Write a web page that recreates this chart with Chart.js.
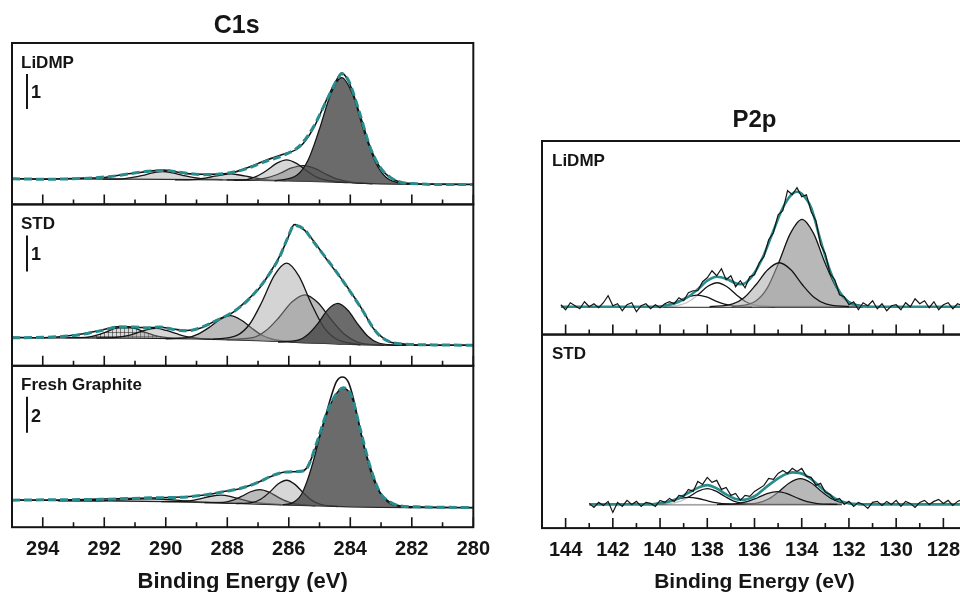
<!DOCTYPE html>
<html>
<head>
<meta charset="utf-8">
<title>C1s / P2p</title>
<script src="https://cdn.jsdelivr.net/npm/chart.js@4.4.1/dist/chart.umd.min.js"></script>
<style>
  html, body { margin: 0; padding: 0; background: #fff; width: 960px; height: 592px; overflow: hidden; }
  canvas { position: absolute; top: 0; }
  #c1s { left: 0; }
  #p2p { left: 530px; }
</style>
</head>
<body>
<canvas id="c1s" width="500" height="592"></canvas>
<canvas id="p2p" width="450" height="592"></canvas>
<script>
// ---------- C1s : ticks do eixo x (eV) ----------
const c1sMajorTicks = [294, 292, 290, 288, 286, 284, 282, 280];
const c1sMinorTicks = [293, 291, 289, 287, 285, 283, 281];

// ---------- C1s LiDMP ----------
const c1sLiBg = [[295,0.16],[291,0.15],[288,0.13],[286,0.1],[284.5,0.07],[283.5,0.03],[282.5,0.01],[280,0]];
const c1sLiPeak1 = [[292.05,0.15],[291.4,0.16],[291.08,0.2],[290.75,0.26],[290.43,0.33],[290.1,0.37],[289.78,0.33],[289.45,0.26],[289.13,0.2],[288.8,0.16],[288.15,0.14]];
const c1sLiPeak2 = [[289.7,0.13],[289.1,0.14],[288.8,0.17],[288.5,0.22],[288.2,0.27],[287.9,0.3],[287.6,0.27],[287.3,0.22],[287.0,0.17],[286.7,0.13],[286.1,0.11]];
const c1sLiPeak3 = [[288.02,0.13],[287.37,0.14],[287.05,0.23],[286.72,0.4],[286.4,0.6],[286.07,0.7],[285.75,0.6],[285.42,0.39],[285.1,0.21],[284.77,0.12],[284.12,0.06]];
const c1sLiPeak4 = [[287.78,0.12],[287.03,0.14],[286.66,0.2],[286.28,0.32],[285.91,0.47],[285.53,0.54],[285.16,0.46],[284.78,0.29],[284.41,0.15],[284.03,0.07],[283.28,0.02]];
const c1sLiPeak5 = [[286.46,0.1],[285.73,0.27],[285.37,0.7],[285.01,1.56],[284.64,2.57],[284.28,3.05],[283.92,2.56],[283.56,1.53],[283.19,0.65],[282.83,0.2],[282.1,0]];
const c1sLiFit = [[295,0.16],[294,0.15],[292.68,0.17],[292.0,0.21],[291.49,0.26],[290.84,0.35],[290.08,0.4],[289.32,0.32],[288.78,0.28],[287.99,0.32],[287.37,0.45],[286.72,0.67],[286.18,0.83],[285.64,1.11],[285.2,1.64],[284.77,2.4],[284.44,2.97],[284.28,3.16],[284.06,2.97],[283.69,2.02],[283.36,1.07],[283.04,0.5],[282.71,0.21],[282.39,0.07],[281.84,0.02],[281.3,0],[280,0]];
const c1sLiRaw = [[295,0.17],[294,0.15],[292.68,0.18],[292.0,0.2],[291.49,0.27],[290.84,0.34],[290.08,0.41],[289.32,0.31],[288.78,0.29],[287.99,0.31],[287.37,0.47],[286.72,0.7],[286.18,0.86],[285.64,1.07],[285.2,1.6],[284.77,2.42],[284.44,2.99],[284.28,3.18],[284.06,2.95],[283.69,2.0],[283.36,1.08],[283.04,0.49],[282.71,0.2],[282.39,0.07],[281.84,0.02],[281.3,0.01],[280,0]];

// ---------- C1s STD ----------
const c1sStdBg = [[295,0.21],[291,0.2],[289,0.18],[287,0.13],[285.5,0.07],[284.5,0.04],[283.5,0.01],[282.5,0],[280,0]];
const c1sStdPeak1 = [[293.27,0.21],[292.62,0.22],[292.3,0.27],[291.97,0.36],[291.65,0.47],[291.32,0.52],[291.0,0.47],[290.67,0.36],[290.35,0.27],[290.02,0.22],[289.37,0.19]];
const c1sStdPeak2 = [[292.25,0.2],[291.6,0.22],[291.28,0.26],[290.95,0.34],[290.63,0.43],[290.3,0.47],[289.98,0.41],[289.65,0.32],[289.33,0.24],[289.0,0.2],[288.35,0.17]];
const c1sStdPeak3 = [[290.0,0.18],[289.3,0.21],[288.95,0.31],[288.6,0.49],[288.25,0.71],[287.9,0.82],[287.55,0.7],[287.2,0.47],[286.85,0.27],[286.5,0.16],[285.8,0.09]];
const c1sStdPeak4 = [[288.47,0.16],[287.67,0.28],[287.27,0.59],[286.87,1.21],[286.47,1.94],[286.07,2.28],[285.67,1.92],[285.27,1.16],[284.87,0.51],[284.47,0.18],[283.67,0.01]];
const c1sStdPeak5 = [[288.02,0.16],[287.17,0.21],[286.75,0.4],[286.32,0.77],[285.9,1.2],[285.47,1.4],[285.05,1.18],[284.62,0.71],[284.2,0.31],[283.77,0.09],[282.92,0]];
const c1sStdPeak6 = [[286.35,0.09],[285.7,0.14],[285.38,0.3],[285.05,0.61],[284.73,0.99],[284.4,1.16],[284.08,0.97],[283.75,0.58],[283.43,0.25],[283.1,0.07],[282.45,0]];
const c1sStdFit = [[295,0.21],[294,0.22],[292.9,0.28],[292.14,0.4],[291.49,0.51],[291.05,0.51],[290.62,0.48],[290.19,0.51],[289.75,0.44],[289.32,0.4],[288.89,0.48],[288.34,0.69],[287.8,0.93],[287.37,1.22],[286.94,1.62],[286.5,2.15],[286.3,2.45],[286.05,2.95],[285.82,3.33],[285.5,3.22],[285.22,2.9],[284.68,2.3],[284.13,1.65],[283.59,0.95],[283.27,0.5],[283.05,0.27],[282.73,0.1],[282.19,0.03],[281.3,0.01],[280,0]];
const c1sStdRaw = [[295,0.22],[294,0.21],[292.9,0.29],[292.14,0.41],[291.49,0.52],[291.05,0.5],[290.62,0.49],[290.19,0.5],[289.75,0.45],[289.32,0.41],[288.89,0.47],[288.34,0.7],[287.8,0.92],[287.37,1.24],[286.94,1.6],[286.5,2.17],[286.3,2.47],[286.05,2.93],[285.82,3.35],[285.5,3.2],[285.22,2.92],[284.68,2.28],[284.13,1.66],[283.59,0.96],[283.27,0.49],[283.05,0.28],[282.73,0.1],[282.19,0.03],[281.3,0],[280,0]];

// ---------- C1s Fresh Graphite ----------
const c1sFgBg = [[295,0.41],[292,0.38],[290,0.33],[288,0.25],[286.5,0.17],[285,0.09],[284,0.04],[283,0.01],[282,0],[280,0]];
const c1sFgPeak1 = [[293.5,0.38],[292.5,0.38],[292.0,0.39],[291.5,0.43],[291.0,0.47],[290.5,0.48],[290.0,0.45],[289.5,0.39],[289.0,0.33],[288.5,0.29],[287.5,0.23]];
const c1sFgPeak2 = [[290.15,0.33],[289.5,0.34],[289.18,0.38],[288.85,0.5],[288.53,0.63],[288.2,0.69],[287.88,0.61],[287.55,0.46],[287.23,0.32],[286.9,0.24],[286.25,0.17]];
const c1sFgPeak3 = [[288.74,0.28],[288.14,0.29],[287.84,0.4],[287.54,0.62],[287.24,0.88],[286.94,1.0],[286.64,0.86],[286.34,0.57],[286.04,0.33],[285.74,0.19],[285.14,0.1]];
const c1sFgPeak4 = [[287.72,0.22],[287.17,0.29],[286.9,0.48],[286.62,0.86],[286.35,1.31],[286.07,1.52],[285.8,1.29],[285.52,0.81],[285.25,0.4],[284.97,0.18],[284.42,0.06]];
const c1sFgPeak5 = [[286.2,0.16],[285.9,0.25],[285.6,0.7],[285.4,1.5],[285.2,2.6],[285.0,3.9],[284.8,5.0],[284.6,5.9],[284.4,6.45],[284.23,6.62],[284.05,6.45],[283.9,5.9],[283.7,4.5],[283.5,3.0],[283.3,1.8],[283.1,1.0],[282.9,0.5],[282.7,0.22],[282.4,0.06],[282.0,0]];
const c1sFgFit = [[295,0.41],[294,0.43],[292.14,0.46],[290.51,0.54],[289.32,0.59],[288.67,0.72],[288.02,0.91],[287.59,1.06],[287.04,1.37],[286.5,1.8],[286.07,1.98],[285.64,2.02],[285.42,2.17],[285.09,3.6],[284.77,5.25],[284.44,6.35],[284.23,6.66],[283.96,6.2],[283.69,4.45],[283.36,2.3],[283.04,0.85],[282.71,0.31],[282.39,0.09],[281.84,0.04],[280,0]];
const c1sFgRaw = [[295,0.42],[294,0.42],[292.14,0.47],[290.51,0.53],[289.32,0.6],[288.67,0.71],[288.02,0.92],[287.59,1.05],[287.04,1.38],[286.5,1.78],[286.07,1.99],[285.64,2.0],[285.42,2.2],[285.09,3.5],[284.77,5.3],[284.6,6.3],[284.45,7.0],[284.26,7.26],[284.07,7.0],[283.92,6.2],[283.75,4.9],[283.55,3.4],[283.36,2.3],[283.04,0.86],[282.71,0.3],[282.39,0.1],[281.84,0.04],[280,0]];

// ---------- P2p : ticks e grade de energia do espectro medido ----------
const p2pMajorTicks = [144, 142, 140, 138, 136, 134, 132, 130, 128];
const p2pMinorTicks = [143, 141, 139, 137, 135, 133, 131, 129, 127];
const p2pEnergy = [144.2,144.0,143.8,143.6,143.4,143.2,143.0,142.8,142.6,142.4,142.2,142.0,141.8,141.6,141.4,141.2,141.0,140.8,140.6,140.4,140.2,140.0,139.8,139.6,139.4,139.2,139.0,138.8,138.6,138.4,138.2,138.0,137.8,137.6,137.4,137.2,137.0,136.8,136.6,136.4,136.2,136.0,135.8,135.6,135.4,135.2,135.0,134.8,134.6,134.4,134.2,134.0,133.8,133.6,133.4,133.2,133.0,132.8,132.6,132.4,132.2,132.0,131.8,131.6,131.4,131.2,131.0,130.8,130.6,130.4,130.2,130.0,129.8,129.6,129.4,129.2,129.0,128.8,128.6,128.4,128.2,128.0,127.8,127.6,127.4,127.2,127.0];

// ---------- P2p LiDMP ----------
const p2pLiRaw = [0.2,-0.3,0.4,0.1,-0.2,0.5,0.0,0.3,-0.1,0.4,1.1,0.1,0.3,-0.4,0.2,0.4,-0.5,0.1,0.3,-0.2,0.2,-0.1,0.3,
  0.5,0.3,0.9,0.6,1.4,1.6,1.6,2.5,2.9,3.6,3.1,3.8,2.7,3.1,2.0,2.6,1.9,3.0,3.2,4.4,5.0,6.7,7.4,9.2,9.6,11.6,11.2,11.9,11.0,11.2,9.5,8.6,6.2,5.3,3.3,2.7,1.2,1.0,0.2,0.5,
  -0.3,0.4,0.1,0.6,-0.2,0.3,-0.4,0.1,0.2,-0.3,0.4,0.0,0.8,0.3,0.6,-0.1,0.5,-0.3,0.2,0.4,-0.2,0.3,0.1,-0.1];
const p2pLiFit = [[144.2,0],[140.0,0],[139.6,0.2],[139.2,0.5],[138.8,1.0],[138.4,1.75],[138.0,2.6],[137.6,3.0],[137.2,2.8],[136.8,2.35],[136.6,2.25],[136.4,2.35],[136.0,3.4],[135.6,5.2],[135.2,7.6],[134.8,9.9],[134.4,11.3],[134.2,11.5],[134.0,11.3],[133.6,9.9],[133.2,6.6],[132.8,3.6],[132.4,1.5],[132.0,0.45],[131.6,0.1],[131.2,0],[127,0]];
const p2pLiBg = [[139.9,0],[131.4,0]];
const p2pLiPeakA = [[140.76,0],[139.98,0.07],[139.59,0.25],[139.2,0.59],[138.82,0.98],[138.43,1.17],[138.04,0.98],[137.66,0.59],[137.27,0.25],[136.88,0.07],[136.1,0]];
const p2pLiPeakB = [[140.01,0],[139.2,0.15],[138.8,0.5],[138.39,1.2],[137.99,2.02],[137.58,2.4],[137.18,2.02],[136.77,1.2],[136.37,0.5],[135.96,0.15],[135.15,0]];
const p2pLiPeakC = [[137.9,0],[136.92,0.28],[136.43,0.92],[135.94,2.2],[135.44,3.7],[134.95,4.4],[134.46,3.7],[133.97,2.2],[133.47,0.92],[132.98,0.28],[132.0,0]];
const p2pLiPeakD = [[136.94,0],[135.96,0.55],[135.47,1.83],[134.98,4.37],[134.48,7.33],[133.99,8.73],[133.5,7.33],[133.01,4.37],[132.51,1.83],[132.02,0.55],[131.04,0]];

// ---------- P2p STD ----------
const p2pStdRaw = [0.1,-0.3,0.2,-0.1,0.3,-0.8,0.2,-0.2,0.4,0.0,0.3,-0.2,0.2,0.1,-0.2,0.4,0.2,
  0.6,0.3,0.9,0.8,1.5,1.3,2.3,2.0,2.7,2.2,2.4,1.5,1.7,0.9,1.1,0.4,0.9,0.8,1.3,1.6,1.9,2.6,2.5,3.1,3.4,3.1,3.6,3.3,3.6,2.8,2.7,1.9,2.1,1.2,1.0,0.4,0.6,0.0,0.3,-0.2,
  0.2,0.0,-0.4,0.2,0.3,-0.1,0.3,0.0,0.4,-0.2,0.3,0.1,-0.3,0.2,0.4,0.0,0.3,0.5,0.1,0.4,-0.1,0.3,0.5,0.2];
const p2pStdFit = [[143.0,0],[140.6,0],[140.0,0.12],[139.6,0.3],[139.2,0.62],[138.8,1.15],[138.4,1.65],[138.0,1.93],[137.6,1.6],[137.2,1.0],[136.8,0.55],[136.5,0.45],[136.2,0.6],[135.9,0.95],[135.6,1.55],[135.3,2.1],[135.0,2.6],[134.7,3.0],[134.4,3.2],[134.1,3.15],[133.8,2.85],[133.5,2.35],[133.2,1.7],[132.9,1.1],[132.6,0.6],[132.3,0.3],[132.0,0.12],[131.6,0.03],[131.0,0],[127,0]];
const p2pStdBg = [[140.5,0],[132.3,0]];
const p2pStdPeakA = [[141.18,0],[140.38,0.04],[139.98,0.15],[139.58,0.35],[139.18,0.59],[138.78,0.7],[138.38,0.59],[137.98,0.35],[137.58,0.15],[137.18,0.04],[136.38,0]];
const p2pStdPeakB = [[140.25,0],[139.5,0.1],[139.13,0.33],[138.75,0.79],[138.38,1.32],[138.0,1.57],[137.63,1.32],[137.25,0.79],[136.88,0.33],[136.5,0.1],[135.75,0]];
const p2pStdPeakC = [[137.59,0],[136.74,0.08],[136.32,0.27],[135.89,0.64],[135.47,1.07],[135.04,1.27],[134.62,1.07],[134.19,0.64],[133.77,0.27],[133.34,0.08],[132.49,0]];
const p2pStdPeakD = [[136.76,0],[135.86,0.16],[135.41,0.54],[134.96,1.29],[134.51,2.16],[134.06,2.57],[133.61,2.16],[133.16,1.29],[132.71,0.54],[132.26,0.16],[131.36,0]];

// ---------- estilos ----------
const FONT = '"Liberation Sans", Arial, Helvetica, sans-serif';
const INK = '#151515';
const TEAL = '#288c8c';
const FILL_PALE = 'rgba(160,160,160,0.22)';
const FILL_LIGHT = 'rgba(150,150,150,0.38)';
const FILL_BIG = 'rgba(160,160,160,0.45)';
const FILL_MID = 'rgba(120,120,120,0.5)';
const FILL_DARK = 'rgba(70,70,70,0.8)';
const FILL_WHITE = 'rgba(255,255,255,0.75)';
const FILL_P_C = 'rgba(170,170,170,0.55)';
const FILL_P_D = 'rgba(160,160,160,0.75)';

Chart.defaults.font.family = FONT;
Chart.defaults.color = INK;

// padrão quadriculado para o pico hachurado
function hatchPattern() {
  const pc = document.createElement('canvas');
  pc.width = 4; pc.height = 4;
  const g = pc.getContext('2d');
  g.fillStyle = 'rgba(0,0,0,0.15)';
  g.fillRect(0, 0, 4, 4);
  g.strokeStyle = 'rgba(0,0,0,0.45)';
  g.lineWidth = 1;
  g.beginPath();
  g.moveTo(0, 0.5); g.lineTo(4, 0.5);
  g.moveTo(0.5, 0); g.lineTo(0.5, 4);
  g.stroke();
  return g.createPattern(pc, 'repeat');
}

function curve(data, axis, color, width, extra) {
  return Object.assign({
    data: data,
    yAxisID: axis,
    borderColor: color,
    borderWidth: width,
    pointRadius: 0,
    fill: false,
    cubicInterpolationMode: 'monotone'
  }, extra || {});
}

// o primeiro dataset fica por cima
function addC1sPanel(list, axis, fit, raw, peaks, bg) {
  list.push(curve(fit, axis, TEAL, 3, { borderDash: [8, 4] }));
  list.push(curve(raw, axis, INK, 1.6));
  const bgIndex = list.length + peaks.length;
  peaks.slice().reverse().forEach(p => {
    list.push(curve(p.data, axis, INK, 1.3, { fill: { target: bgIndex }, backgroundColor: p.fill }));
  });
  list.push(curve(bg, axis, INK, 1.3));
}

function addP2pPanel(list, axis, raw, fit, peaks, bg) {
  list.push(curve(raw, axis, INK, 1.2, { cubicInterpolationMode: 'default', tension: 0 }));
  list.push(curve(fit, axis, TEAL, 2.6));
  const bgIndex = list.length + peaks.length;
  peaks.slice().reverse().forEach(p => {
    list.push(curve(p.data, axis, INK, 1.3, { fill: { target: bgIndex }, backgroundColor: p.fill }));
  });
  list.push(curve(bg, axis, INK, 1.8));
}

// Chart.js conta o padding dos ticks duas vezes na altura do eixo
function xAxis(min, max, ticks, titleSize) {
  return {
    type: 'linear', position: 'bottom', min: min, max: max, reverse: true,
    afterBuildTicks: s => { s.ticks = ticks.map(v => ({ value: v })); },
    grid: { display: false, drawTicks: false },
    border: { display: false },
    ticks: { padding: 10, font: { size: 20, weight: 'bold' }, color: INK, maxRotation: 0, autoSkip: false },
    title: { display: true, text: 'Binding Energy (eV)', color: INK,
             font: { size: titleSize, weight: 'bold', lineHeight: 0.9 }, padding: { top: 1, bottom: 0 } }
  };
}

function yAxis(min, max, weight) {
  return { type: 'linear', position: 'left', stack: 'col', stackWeight: 1, weight: weight, min: min, max: max, display: false };
}

// moldura de cada painel, ticks internos, rótulos e barra de escala
function panelFrames(cfg) {
  return {
    id: 'panelFrames',
    afterDraw(chart) {
      const ctx = chart.ctx;
      const area = chart.chartArea;
      const xs = chart.scales.x;
      ctx.save();
      ctx.fillStyle = INK;
      ctx.strokeStyle = INK;
      ctx.textBaseline = 'middle';
      ctx.textAlign = 'center';
      ctx.font = 'bold ' + cfg.titleSize + 'px ' + FONT;
      ctx.fillText(cfg.title, (area.left + area.right) / 2 + cfg.titleShift, area.top - cfg.titleGap);
      cfg.panels.forEach(p => {
        const ys = chart.scales[p.axis];
        ctx.lineWidth = 2;
        ctx.strokeRect(area.left, ys.top, area.right - area.left, ys.bottom - ys.top);
        ctx.lineWidth = 1.6;
        ctx.beginPath();
        cfg.major.forEach(v => {
          const px = xs.getPixelForValue(v);
          ctx.moveTo(px, ys.bottom); ctx.lineTo(px, ys.bottom - 10);
        });
        cfg.minor.forEach(v => {
          const px = xs.getPixelForValue(v);
          ctx.moveTo(px, ys.bottom); ctx.lineTo(px, ys.bottom - 5);
        });
        ctx.stroke();
        ctx.textAlign = 'left';
        ctx.font = 'bold 17px ' + FONT;
        ctx.fillText(p.label, area.left + cfg.labelInset, ys.top + 20);
        if (p.bar) {
          const len = ys.getPixelForValue(0) - ys.getPixelForValue(p.bar);
          const bx = area.left + 15;
          const by = ys.top + 31;
          ctx.lineWidth = 2;
          ctx.beginPath();
          ctx.moveTo(bx, by); ctx.lineTo(bx, by + len);
          ctx.stroke();
          ctx.font = 'bold 18px ' + FONT;
          ctx.fillText(String(p.bar), bx + 4, by + len / 2 + 2);
        }
      });
      ctx.restore();
    }
  };
}

function buildChart(id, datasets, scales, padding, frameCfg) {
  return new Chart(document.getElementById(id), {
    type: 'line',
    data: { datasets: datasets },
    options: {
      responsive: false,
      animation: false,
      events: [],
      layout: { padding: padding },
      scales: scales,
      plugins: { legend: { display: false }, tooltip: { enabled: false } }
    },
    plugins: [panelFrames(frameCfg)]
  });
}

// ---------- C1s ----------
const hatch = hatchPattern();
const c1sSets = [];
addC1sPanel(c1sSets, 'yLi', c1sLiFit, c1sLiRaw, [
  { data: c1sLiPeak1, fill: FILL_LIGHT },
  { data: c1sLiPeak2, fill: FILL_LIGHT },
  { data: c1sLiPeak4, fill: FILL_MID },
  { data: c1sLiPeak3, fill: FILL_LIGHT },
  { data: c1sLiPeak5, fill: FILL_DARK }
], c1sLiBg);
addC1sPanel(c1sSets, 'yStd', c1sStdFit, c1sStdRaw, [
  { data: c1sStdPeak1, fill: hatch },
  { data: c1sStdPeak2, fill: FILL_LIGHT },
  { data: c1sStdPeak3, fill: FILL_MID },
  { data: c1sStdPeak5, fill: FILL_MID },
  { data: c1sStdPeak4, fill: FILL_BIG },
  { data: c1sStdPeak6, fill: FILL_DARK }
], c1sStdBg);
addC1sPanel(c1sSets, 'yFg', c1sFgFit, c1sFgRaw, [
  { data: c1sFgPeak1, fill: FILL_PALE },
  { data: c1sFgPeak2, fill: FILL_LIGHT },
  { data: c1sFgPeak3, fill: FILL_MID },
  { data: c1sFgPeak4, fill: FILL_LIGHT },
  { data: c1sFgPeak5, fill: FILL_DARK }
], c1sFgBg);

buildChart('c1s', c1sSets, {
  x: xAxis(280, 295, c1sMajorTicks, 22),
  yLi: yAxis(-0.57, 4.04, 3),
  yStd: yAxis(-0.57, 3.91, 2),
  yFg: yAxis(-1.09, 7.88, 1)
}, { left: 12, right: 26, top: 43, bottom: 0 }, {
  title: 'C1s', titleSize: 25, titleShift: -6, titleGap: 17, labelInset: 9,
  major: c1sMajorTicks, minor: c1sMinorTicks,
  panels: [
    { axis: 'yLi', label: 'LiDMP', bar: 1 },
    { axis: 'yStd', label: 'STD', bar: 1 },
    { axis: 'yFg', label: 'Fresh Graphite', bar: 2 }
  ]
});

// ---------- P2p ----------
const p2pSets = [];
addP2pPanel(p2pSets, 'yLi',
  p2pEnergy.map((e, i) => [e, p2pLiRaw[i]]), p2pLiFit, [
  { data: p2pLiPeakB, fill: FILL_WHITE },
  { data: p2pLiPeakA, fill: FILL_WHITE },
  { data: p2pLiPeakD, fill: FILL_P_D },
  { data: p2pLiPeakC, fill: FILL_P_C }
], p2pLiBg);
addP2pPanel(p2pSets, 'yStd',
  p2pEnergy.slice(6).map((e, i) => [e, p2pStdRaw[i]]), p2pStdFit, [
  { data: p2pStdPeakB, fill: FILL_WHITE },
  { data: p2pStdPeakA, fill: FILL_WHITE },
  { data: p2pStdPeakD, fill: FILL_P_D },
  { data: p2pStdPeakC, fill: FILL_P_C }
], p2pStdBg);

buildChart('p2p', p2pSets, {
  x: xAxis(127, 145, p2pMajorTicks, 21),
  yLi: yAxis(-2.78, 16.57, 2),
  yStd: yAxis(-2.37, 16.98, 1)
}, { left: 12, right: 13, top: 141, bottom: 0 }, {
  title: 'P2p', titleSize: 24, titleShift: 0, titleGap: 21, labelInset: 10,
  major: p2pMajorTicks, minor: p2pMinorTicks,
  panels: [
    { axis: 'yLi', label: 'LiDMP' },
    { axis: 'yStd', label: 'STD' }
  ]
});
</script>
</body>
</html>
